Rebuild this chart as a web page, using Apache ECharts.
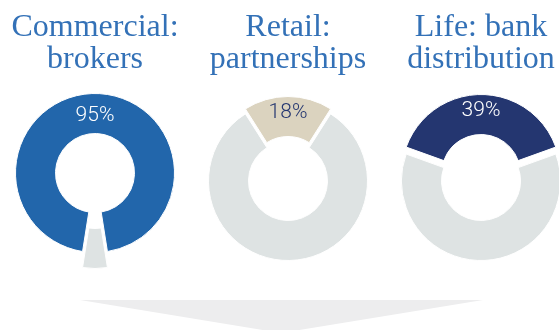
<!DOCTYPE html>
<html>
<head>
<meta charset="utf-8">
<title>Distribution channels</title>
<script src="https://cdn.jsdelivr.net/npm/echarts@6/dist/echarts.min.js"></script>
<style>
  html, body { margin: 0; padding: 0; background: #ffffff; }
  #chart { width: 559px; height: 330px; }
</style>
</head>
<body>
<div id="chart"></div>
<script>
// Channel headings and the share held by each channel (percent)
const channels = ['Commercial:\nbrokers', 'Retail:\npartnerships', 'Life: bank\ndistribution'];
const shares = [95, 18, 39];
const shareLabels = ['95%', '18%', '39%'];

// Styling per donut
const shareColors = ['#2266ab', '#dbd3bf', '#243670'];
const labelColors = ['#ffffff', '#243670', '#ffffff'];
const restColor = '#dee3e3';
const centersX = [95, 288, 481];
const centerY = 181;
const explode = [8, 5, 7];
// [top, bottom] padding used to nudge each percentage inside its ring
const labelPad = [[10, 0], [0, 2], [0, 2]];

const chart = echarts.init(document.getElementById('chart'), null, { renderer: 'canvas' });

const series = shares.map((share, i) => {
  const rest = 100 - share;
  return {
    type: 'pie',
    center: [centersX[i], centerY],
    radius: [39.5, 79.5],
    // keep the share slice centred on the top of the ring
    startAngle: 90 + share / 100 * 180,
    clockwise: true,
    selectedMode: 'multiple',
    selectedOffset: explode[i],
    avoidLabelOverlap: false,
    silent: true,
    animation: false,
    itemStyle: { borderColor: '#ffffff', borderWidth: 1 },
    labelLine: { show: false },
    data: [
      {
        value: share,
        name: shareLabels[i],
        selected: true,
        itemStyle: { color: shareColors[i] },
        label: {
          show: true,
          position: 'inside',
          formatter: '{p|' + shareLabels[i] + '}',
          rich: {
            p: {
              color: labelColors[i],
              fontFamily: 'Roboto',
              fontWeight: 300,
              fontSize: 21,
              padding: [labelPad[i][0], 0, labelPad[i][1], 0]
            }
          }
        }
      },
      {
        value: rest,
        name: 'other',
        selected: i === 0,
        itemStyle: { color: restColor },
        label: { show: false }
      }
    ]
  };
});

const titleTexts = channels.map((text, i) => ({
  type: 'text',
  x: centersX[i],
  y: 12,
  silent: true,
  style: {
    text: text,
    align: 'center',
    verticalAlign: 'top',
    fontFamily: 'Liberation Serif',
    fontSize: 32,
    lineHeight: 32,
    fill: '#3371b7'
  }
}));

chart.setOption({
  backgroundColor: '#ffffff',
  animation: false,
  graphic: [
    ...titleTexts,
    {
      type: 'polygon',
      silent: true,
      shape: { points: [[80, 300], [483, 300], [281, 333]] },
      style: { fill: '#ededee' }
    }
  ],
  series: series
});
</script>
</body>
</html>
